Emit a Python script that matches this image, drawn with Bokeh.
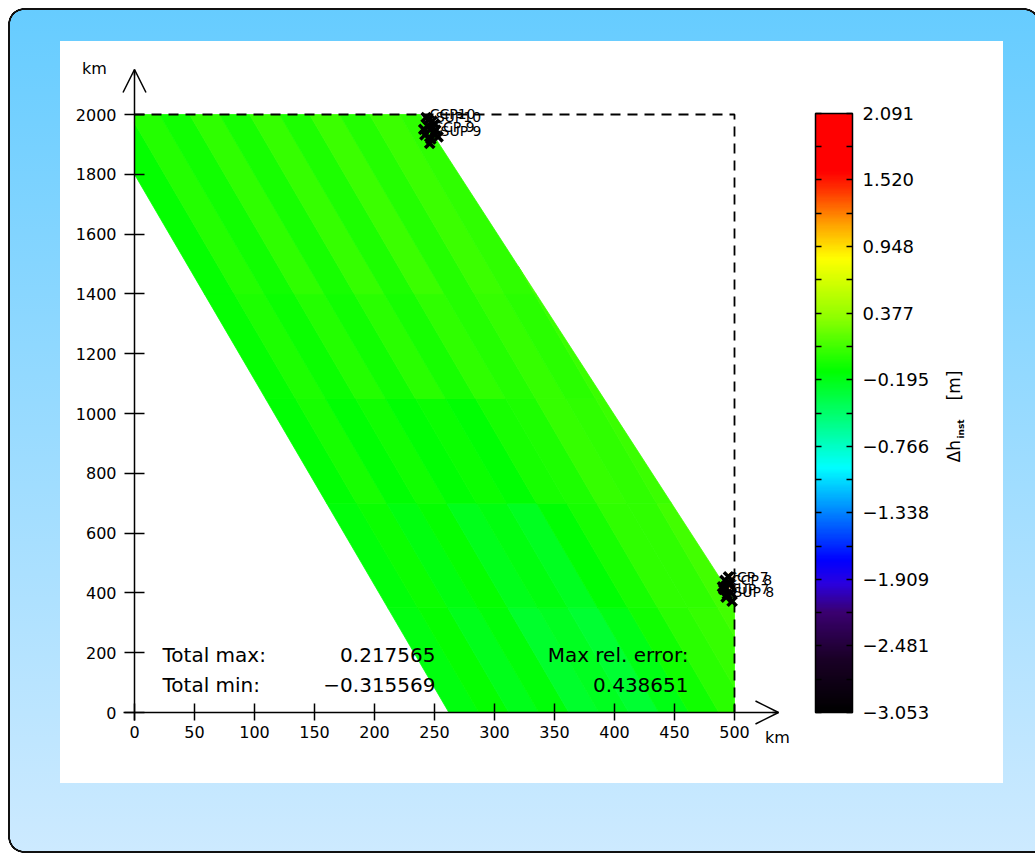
import numpy as np
from bokeh.plotting import figure
from bokeh.models import (Range1d, FixedTicker, LinearColorMapper, ColorBar, Label,
                          Arrow, OpenHead, ColumnDataSource)
from bokeh.transform import transform
from bokeh.embed import file_html
from bokeh.resources import INLINE
from bokeh.core.properties import value

# ---------------- data ----------------
x_ticks = [0, 50, 100, 150, 200, 250, 300, 350, 400, 450, 500]
y_ticks = [0, 200, 400, 600, 800, 1000, 1200, 1400, 1600, 1800, 2000]

cb_low, cb_high = -3.053, 2.091
cb_ticks = [-3.053, -2.481, -1.909, -1.338, -0.766, -0.195, 0.377, 0.948, 1.520, 2.091]
cb_labels = ["\u22123.053", "\u22122.481", "\u22121.909", "\u22121.338", "\u22120.766",
             "\u22120.195", "0.377", "0.948", "1.520", "2.091"]
cb_minor = [-2.767, -2.195, -1.624, -1.052, -0.481, 0.091, 0.663, 1.234, 1.806]

# domain box (dashed)
dom_x = [0, 500, 500]
dom_y = [2000, 2000, 0]

# computed area outline
shape_x = [0, 238, 500, 500, 262, 0]
shape_y = [2000, 2000, 374, 0, 0, 1800]

# stripe bands (offset along the slanted direction) and y bands, with field values
stripe_edges = [-5, 25, 50, 75, 100, 125, 150, 175, 200, 225, 250, 275, 300]
yband_edges = [0, 350, 700, 1050, 1400, 2000]
vals_y0 = [-0.16, -0.10, -0.20, -0.14, -0.26, -0.22, -0.30, -0.18, -0.06, 0.02, 0.05, 0.10]
vals_y1 = [-0.14, -0.08, -0.16, -0.11, -0.20, -0.16, -0.22, -0.12, -0.04, 0.03, 0.04, 0.09]
vals_y2 = [-0.12, -0.05, -0.12, -0.06, -0.13, -0.08, -0.12, -0.04, -0.02, 0.05, 0.03, 0.08]
vals_y3 = [-0.11, -0.03, -0.08, 0.00, -0.07, 0.02, -0.05, 0.04, -0.01, 0.06, 0.02, 0.07]
vals_y4 = [-0.10, -0.01, -0.06, 0.03, -0.04, 0.05, -0.02, 0.07, 0.00, 0.08, 0.03, 0.09]

# station markers
mark_x = [243, 248, 245, 251, 242, 247, 246, 250, 241, 253, 245, 249,
          492, 496, 491, 497, 493, 498, 495, 490, 496, 494]
mark_y = [1990, 1978, 1960, 1948, 1932, 1918, 1903, 1968, 1950, 1925, 1982, 1938,
          442, 428, 412, 400, 386, 372, 454, 420, 434, 395]
site_names = ["CCP10", "SUP10", "CCP 9", "SUP 9", "CCP 7", "CCP 8", "SUP 7", "SUP 8"]
site_lx = [246, 251, 249, 255, 494, 497, 495, 499]
site_ly = [2003, 1990, 1958, 1946, 452, 442, 412, 402]

total_max = "0.217565"
total_min = "\u22120.315569"
max_rel_err = "0.438651"

# colour scale anchors (value, colour)
cmap_anchors = [(-3.053, "#000000"), (-2.6, "#1a0026"), (-2.2, "#3a0070"), (-1.95, "#2a00e0"),
                (-1.75, "#0000ff"), (-1.35, "#0080ff"), (-0.95, "#00ffff"), (-0.55, "#00ff80"),
                (-0.12, "#00ff00"), (0.35, "#90ff00"), (0.85, "#ffff00"), (1.15, "#ffa000"),
                (1.45, "#ff3000"), (1.6, "#ff0000"), (2.091, "#ff0000")]


def hex2rgb(h):
    return [int(h[i:i + 2], 16) for i in (1, 3, 5)]


def build_palette(n=256):
    av = np.array([a[0] for a in cmap_anchors])
    ac = np.array([hex2rgb(a[1]) for a in cmap_anchors], dtype=float)
    vs = np.linspace(cb_low, cb_high, n)
    out = []
    for v in vs:
        rgb = [np.interp(v, av, ac[:, k]) for k in range(3)]
        out.append("#%02x%02x%02x" % tuple(int(round(c)) for c in rgb))
    return out


palette = build_palette()
mapper = LinearColorMapper(palette=palette, low=cb_low, high=cb_high)


def clip(poly, a, b, c0):
    out = []
    n = len(poly)
    for i in range(n):
        P = poly[i]
        Q = poly[(i + 1) % n]
        fp = a * P[0] + b * P[1] + c0
        fq = a * Q[0] + b * Q[1] + c0
        if fp >= 0:
            out.append(P)
        if (fp >= 0) != (fq >= 0):
            t = fp / (fp - fq)
            out.append((P[0] + t * (Q[0] - P[0]), P[1] + t * (Q[1] - P[1])))
    return out


shape = list(zip(shape_x, shape_y))
k = shape_x[4] / shape_y[5]          # slant of the stripes (parallel to left edge)
base = shape_x[4]
band_vals = [vals_y0, vals_y1, vals_y2, vals_y3, vals_y4]
pxs, pys, pvs = [], [], []
for j in range(len(yband_edges) - 1):
    y0, y1 = yband_edges[j], yband_edges[j + 1]
    for i in range(len(stripe_edges) - 1):
        c_lo, c_hi = stripe_edges[i], stripe_edges[i + 1]
        poly = clip(shape, 1, k, -base - c_lo)
        poly = clip(poly, -1, -k, base + c_hi)
        poly = clip(poly, 0, 1, -y0)
        poly = clip(poly, 0, -1, y1)
        if len(poly) >= 3:
            pxs.append([q[0] for q in poly])
            pys.append([q[1] for q in poly])
            pvs.append(band_vals[j][i])

# ---------------- layout (pixel <-> data) ----------------
W, H = 1035, 854
PX0, SX = 134.0, 1.2        # page x of data x=0, px per km
PY0, SY = 712.0, 0.299      # page y of data y=0, px per km


def px2x(px):
    return (px - PX0) / SX


def py2y(py):
    return (PY0 - py) / SY


XTIP, YTIP = px2x(778), py2y(69)
FONT = "DejaVu Sans"

p = figure(width=W, height=H, output_backend="svg", toolbar_location=None,
           x_range=Range1d(px2x(0), px2x(W)), y_range=Range1d(py2y(H), py2y(0)),
           min_border=0)
p.min_border_left = p.min_border_right = p.min_border_top = p.min_border_bottom = 0
p.border_fill_color = None
p.background_fill_color = None
p.outline_line_color = None
p.grid.visible = False

ring = "transparent 13.6px, #111111 14px, #111111 15.6px, #ffffff 16px"
p.styles = {
    "background": ", ".join([
        "linear-gradient(#ffffff, #ffffff) 60px 41px / 943px 742px no-repeat",
        "linear-gradient(#111111, #111111) 24px 8px / 1000px 2px no-repeat",
        "linear-gradient(#111111, #111111) 8px 24px / 2px 813px no-repeat",
        "linear-gradient(#111111, #111111) 24px 851px / 1011px 2px no-repeat",
        "radial-gradient(circle 16px at 16px 16px, %s) 8px 8px / 16px 16px no-repeat" % ring,
        "radial-gradient(circle 16px at 16px 0px, %s) 8px 837px / 16px 16px no-repeat" % ring,
        "radial-gradient(circle 16px at 0px 16px, %s) 1024px 8px / 16px 16px no-repeat" % ring,
        "linear-gradient(180deg, #66ccff, #cdeaff) 8px 8px / 1027px 845px no-repeat #ffffff",
    ])
}

# field
src = ColumnDataSource(dict(xs=pxs, ys=pys, v=pvs))
p.patches("xs", "ys", source=src, fill_color=transform("v", mapper),
          line_color=transform("v", mapper), line_width=0.8)

# domain box
p.line(dom_x, dom_y, line_color="black", line_width=1.8, line_dash="10 7")

# stations
p.scatter(mark_x, mark_y, marker="x", size=13, line_width=3.5, color="black")
p.text(site_lx, site_ly, text=site_names, text_font=value(FONT), text_font_size="14px",
       text_baseline="middle", text_align="left", text_color="black")

# axes (fixed at the origin, inside the full-canvas frame)
for ax in p.xaxis:
    ax.fixed_location = 0
    ax.bounds = (px2x(123), XTIP)
    ax.ticker = FixedTicker(ticks=x_ticks)
    ax.major_tick_in = 9
    ax.major_tick_out = 8
    ax.minor_tick_in = 0
    ax.minor_tick_out = 0
    ax.axis_line_width = 1.5
    ax.major_tick_line_width = 1.5
    ax.axis_line_color = "black"
    ax.major_tick_line_color = "black"
    ax.major_label_text_font = FONT
    ax.major_label_text_font_size = "16px"
    ax.major_label_text_color = "black"
    ax.major_label_standoff = 5
for ax in p.yaxis:
    ax.fixed_location = 0
    ax.bounds = (py2y(720), YTIP)
    ax.ticker = FixedTicker(ticks=y_ticks)
    ax.major_tick_in = 10
    ax.major_tick_out = 10
    ax.minor_tick_in = 0
    ax.minor_tick_out = 0
    ax.axis_line_width = 1.5
    ax.major_tick_line_width = 1.5
    ax.axis_line_color = "black"
    ax.major_tick_line_color = "black"
    ax.major_label_text_font = FONT
    ax.major_label_text_font_size = "16px"
    ax.major_label_text_color = "black"
    ax.major_label_standoff = 8

# axis arrows
p.add_layout(Arrow(end=OpenHead(size=23, line_width=1.5, line_color="black"),
                   x_start=XTIP - 5, y_start=0, x_end=XTIP, y_end=0,
                   line_width=1.5, line_color="black"))
p.add_layout(Arrow(end=OpenHead(size=23, line_width=1.5, line_color="black"),
                   x_start=0, y_start=YTIP - 20, x_end=0, y_end=YTIP,
                   line_width=1.5, line_color="black"))

p.add_layout(Label(x=px2x(94), y=py2y(68), text="km", text_align="center", text_baseline="middle",
                   text_font=FONT, text_font_size="16px", text_color="black"))
p.add_layout(Label(x=px2x(777), y=py2y(737), text="km", text_align="center", text_baseline="middle",
                   text_font=FONT, text_font_size="16px", text_color="black"))

# statistics
stat_kw = dict(text_font=FONT, text_font_size="20px", text_color="black", text_baseline="middle")
p.add_layout(Label(x=px2x(162), y=py2y(654), text="Total max:", text_align="left", **stat_kw))
p.add_layout(Label(x=px2x(162), y=py2y(684), text="Total min:", text_align="left", **stat_kw))
p.add_layout(Label(x=px2x(435), y=py2y(654), text=total_max, text_align="right", **stat_kw))
p.add_layout(Label(x=px2x(435), y=py2y(684), text=total_min, text_align="right", **stat_kw))
p.add_layout(Label(x=px2x(688), y=py2y(654), text="Max rel. error:", text_align="right", **stat_kw))
p.add_layout(Label(x=px2x(688), y=py2y(684), text=max_rel_err, text_align="right", **stat_kw))

# colour bar
overrides = {t: l for t, l in zip(cb_ticks, cb_labels)}
cb = ColorBar(color_mapper=mapper, location=(815, H - 712), width=37, height=599,
              padding=0, margin=0,
              ticker=FixedTicker(ticks=cb_ticks, minor_ticks=cb_minor),
              major_label_overrides=overrides,
              major_tick_in=6, major_tick_out=0, minor_tick_in=6, minor_tick_out=0,
              major_tick_line_color="black", minor_tick_line_color="black",
              major_tick_line_width=1.5, minor_tick_line_width=1.5,
              bar_line_color="black", bar_line_width=1.5,
              label_standoff=10, major_label_text_font=FONT,
              major_label_text_font_size="18px", major_label_text_color="black",
              background_fill_color=None, border_line_color=None)
p.add_layout(cb)
cb_left = ColorBar(color_mapper=mapper, location=(814, H - 712), width=1, height=599,
                   padding=0, margin=0, scale_alpha=0,
                   ticker=FixedTicker(ticks=cb_ticks, minor_ticks=cb_minor),
                   major_label_overrides={t: "" for t in cb_ticks},
                   major_tick_in=0, major_tick_out=6, minor_tick_in=0, minor_tick_out=6,
                   major_tick_line_color="black", minor_tick_line_color="black",
                   major_tick_line_width=1.5, minor_tick_line_width=1.5,
                   bar_line_color=None, label_standoff=0,
                   major_label_text_font_size="1px", major_label_text_alpha=0,
                   background_fill_color=None, border_line_color=None)
p.add_layout(cb_left)

# colour bar title (rotated)
p.add_layout(Label(x=px2x(953), y=py2y(462), text="\u0394h", angle=np.pi / 2, text_align="left",
                   text_baseline="middle", text_font=FONT, text_font_size="17px", text_color="black"))
p.add_layout(Label(x=px2x(960), y=py2y(438), text="inst", angle=np.pi / 2, text_align="left",
                   text_baseline="middle", text_font=FONT, text_font_size="9px",
                   text_font_style="bold", text_color="black"))
p.add_layout(Label(x=px2x(953), y=py2y(400), text="[m]", angle=np.pi / 2, text_align="left",
                   text_baseline="middle", text_font=FONT, text_font_size="17px", text_color="black"))

open("out.html", "w").write(file_html(p, INLINE))
